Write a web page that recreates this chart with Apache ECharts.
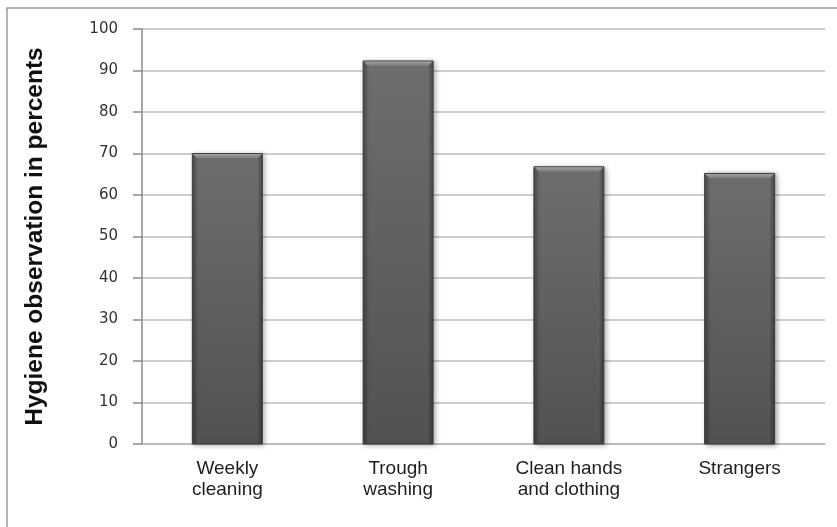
<!DOCTYPE html>
<html>
<head>
<meta charset="utf-8">
<script src="https://cdn.jsdelivr.net/npm/echarts@6/dist/echarts.min.js"></script>
<style>
  html, body { margin: 0; padding: 0; background: #ffffff; }
  #chart { width: 837px; height: 527px; }
</style>
</head>
<body>
<div id="chart"></div>
<script>
// Hygiene observations per practice (percent)
const categories = ['Weekly\ncleaning', 'Trough\nwashing', 'Clean hands\nand clothing', 'Strangers'];
const values = [70, 92.3, 66.8, 65.2];
const yTicks = { min: 0, max: 100, interval: 10 };
const yTitle = 'Hygiene observation in percents';

const chart = echarts.init(document.getElementById('chart'), null, { renderer: 'canvas' });

// Bevelled column: body with vertical shading, darker side edges, lighter top bevel
function renderColumn(params, api) {
  const idx = api.value(0);
  const top = api.coord([idx, api.value(1)]);
  const base = api.coord([idx, 0]);
  const w = api.size([1, 0])[0] * 0.41;
  const x = top[0] - w / 2;
  const y = top[1];
  const h = base[1] - top[1];
  const bev = 5;
  return {
    type: 'group',
    children: [
      {
        type: 'rect',
        shape: { x: x, y: y, width: w, height: h },
        style: {
          fill: new echarts.graphic.LinearGradient(0, 0, 0, 1, [
            { offset: 0, color: '#6e6e6e' },
            { offset: 1, color: '#525252' }
          ]),
          stroke: '#3e3e3e',
          lineWidth: 1,
          shadowBlur: 5,
          shadowColor: 'rgba(0,0,0,0.35)',
          shadowOffsetX: 2,
          shadowOffsetY: 1
        }
      },
      {
        type: 'rect',
        shape: { x: x + 0.5, y: y + 0.5, width: w - 1, height: h - 1 },
        style: {
          fill: new echarts.graphic.LinearGradient(0, 0, 1, 0, [
            { offset: 0, color: 'rgba(0,0,0,0.28)' },
            { offset: 0.07, color: 'rgba(0,0,0,0)' },
            { offset: 0.93, color: 'rgba(0,0,0,0)' },
            { offset: 1, color: 'rgba(0,0,0,0.3)' }
          ])
        }
      },
      {
        type: 'polygon',
        shape: { points: [[x + 0.5, y + 0.5], [x + w - 0.5, y + 0.5], [x + w - bev, y + bev], [x + bev, y + bev]] },
        style: {
          fill: new echarts.graphic.LinearGradient(0, 0, 0, 1, [
            { offset: 0, color: '#a2a2a2' },
            { offset: 1, color: '#777777' }
          ])
        }
      }
    ]
  };
}

const option = {
  backgroundColor: '#ffffff',
  animation: false,
  graphic: [
    {
      type: 'rect',
      shape: { x: 7, y: 8, width: 900, height: 600 },
      style: { fill: 'none', stroke: '#9a9a9a', lineWidth: 1.5 },
      silent: true,
      z: -1
    }
  ],
  grid: { left: 142, right: 12, top: 29, bottom: 83, containLabel: false },
  xAxis: {
    type: 'category',
    data: categories,
    axisLine: { show: true, lineStyle: { color: '#b5b5b5', width: 1.5 } },
    axisTick: { show: false },
    axisLabel: {
      color: '#1e1e1e',
      fontFamily: 'Liberation Sans, Arial, sans-serif',
      fontSize: 19,
      lineHeight: 21,
      margin: 14,
      interval: 0
    }
  },
  yAxis: {
    type: 'value',
    min: yTicks.min,
    max: yTicks.max,
    interval: yTicks.interval,
    name: yTitle,
    nameLocation: 'middle',
    nameGap: 94,
    nameTextStyle: {
      color: '#111111',
      fontFamily: 'Liberation Sans, Arial, sans-serif',
      fontWeight: 'bold',
      fontSize: 24.5
    },
    axisLine: { show: true, lineStyle: { color: '#8a8a8a', width: 1.5 } },
    axisTick: { show: true, length: 9, lineStyle: { color: '#8a8a8a', width: 1.5 } },
    axisLabel: {
      color: '#333333',
      fontFamily: 'DejaVu Sans, Verdana, sans-serif',
      fontSize: 15,
      margin: 24
    },
    splitLine: { show: true, lineStyle: { color: '#bdbdbd', width: 1.5 } }
  },
  series: [
    {
      type: 'custom',
      renderItem: renderColumn,
      encode: { x: 0, y: 1 },
      data: values.map(function (v, i) { return [i, v]; }),
      z: 3
    }
  ]
};

chart.setOption(option);
</script>
</body>
</html>
